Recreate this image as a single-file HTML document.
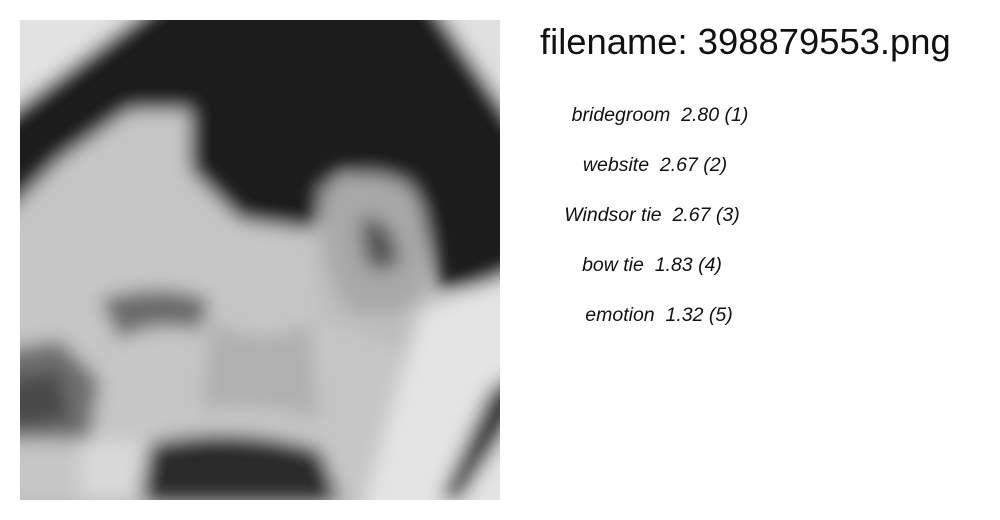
<!DOCTYPE html>
<html><head><meta charset="utf-8"><style>
html,body{margin:0;padding:0;background:#fff;width:1000px;height:520px;overflow:hidden;font-family:"Liberation Sans","DejaVu Sans",sans-serif}
.t{position:absolute;left:540px;top:21px;font-size:36.4px;color:#111;white-space:nowrap}
.l{position:absolute;width:300px;text-align:center;font-style:italic;font-size:19.5px;color:#111;white-space:nowrap}
svg{position:absolute;left:20px;top:20px}
</style></head><body>
<svg width="480" height="480" viewBox="0 0 480 480">
<defs><filter id="b" x="-20%" y="-20%" width="140%" height="140%"><feGaussianBlur stdDeviation="9"/></filter>
<clipPath id="c"><rect width="480" height="480"/></clipPath></defs>
<g clip-path="url(#c)">
<rect width="480" height="480" fill="#bdbdbd"/>
<g filter="url(#b)">
<path d="M-20,-20 L140,-20 L-20,100 Z" fill="#e2e2e2"/>
<path d="M410,-20 L500,-20 L500,110 Z" fill="#e0e0e0"/>
<path d="M-20,100 L140,-20 L410,-20 L500,110 L500,260 L420,270 L400,180 L320,150 L290,210 L220,200 L170,150 L170,90 L110,90 L40,140 L-20,200 Z" fill="#1e1e1e"/>
<path d="M-20,200 L40,140 L110,90 L170,90 L170,150 L220,200 L290,210 L300,300 L380,330 L380,480 L-20,480 Z" fill="#c6c6c6"/>
<path d="M300,170 Q340,140 390,165 Q420,220 400,280 Q370,300 330,290 Q300,250 300,170 Z" fill="#a8a8a8"/>
<path d="M340,200 Q370,190 380,240 Q360,260 345,240 Z" fill="#555"/>
<path d="M400,290 L500,250 L500,500 L340,500 Z" fill="#e4e4e4"/>
<path d="M470,370 L500,350 L500,390 L440,480 L420,480 Z" fill="#333"/>
<path d="M80,280 Q140,260 190,280 L180,310 Q130,300 100,320 Z" fill="#6a6a6a"/>
<path d="M-20,330 L40,320 L80,360 L70,420 L-20,420 Z" fill="#6e6e6e"/>
<path d="M-20,360 L40,350 L50,400 L-20,410 Z" fill="#4a4a4a"/>
<path d="M110,430 Q200,400 300,430 L320,480 L100,480 Z" fill="#2c2c2c"/>
<path d="M60,420 L130,420 L120,480 L60,480 Z" fill="#d8d8d8"/>
<path d="M190,300 Q250,330 290,300 L300,400 Q230,380 180,390 Z" fill="#b0b0b0"/>
</g>
</g>
</svg>
<div class="t">filename: 398879553.png</div>
<div class="l" style="top:104px;left:510px">bridegroom&nbsp; 2.80 (1)</div>
<div class="l" style="top:154px;left:505px">website&nbsp; 2.67 (2)</div>
<div class="l" style="top:204px;left:502px">Windsor tie&nbsp; 2.67 (3)</div>
<div class="l" style="top:254px;left:502px">bow tie&nbsp; 1.83 (4)</div>
<div class="l" style="top:304px;left:509px">emotion&nbsp; 1.32 (5)</div>
</body></html>
